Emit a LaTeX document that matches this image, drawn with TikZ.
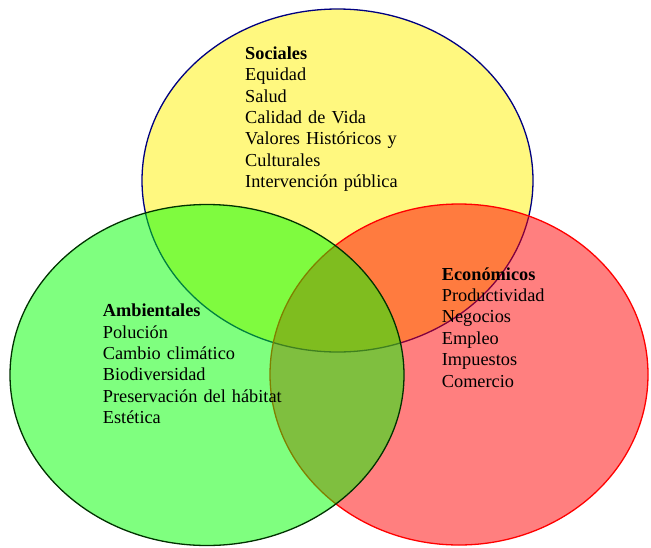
\documentclass[tikz,border=0pt]{standalone}
\usepackage{fontspec}
\setmainfont{Liberation Serif}
\begin{document}
\begin{tikzpicture}[x=1pt,y=-1pt,
  setfill/.style={fill opacity=0.5, draw opacity=1, line width=1.3pt},
  settext/.style={inner sep=0pt, anchor=base west, text width=220pt, align=left,
    font=\fontsize{18.3}{21.4}\selectfont}]
\definecolor{navyb}{RGB}{0,0,128}
\definecolor{greenb}{RGB}{0,50,0}
\useasboundingbox (0,0) rectangle (651,547);
\fill[white] (0,0) rectangle (651,547);
\path[setfill, fill=yellow, draw=navyb] (337.5,180.5) ellipse [x radius=195.5, y radius=171.5];
\path[setfill, fill={rgb,255:red,255;green,0;blue,0}, draw={rgb,255:red,255;green,0;blue,0}] (459,374.5) ellipse [x radius=189, y radius=170.5];
\path[setfill, fill={rgb,255:red,0;green,255;blue,0}, draw=greenb] (207,375) ellipse [x radius=197, y radius=170.5];
\node[settext] (soc) at (245,59.3) {\textbf{Sociales}\\Equidad\\Salud\\Calidad de Vida\\Valores Históricos y\\Culturales\\Intervención pública};
\node[settext] (amb) at (102.7,316.7) {\textbf{Ambientales}\\Polución\\Cambio climático\\Biodiversidad\\Preservación del hábitat\\Estética};
\node[settext] (eco) at (441.7,280) {\textbf{Económicos}\\Productividad\\Negocios\\Empleo\\Impuestos\\Comercio};
\end{tikzpicture}
\end{document}
